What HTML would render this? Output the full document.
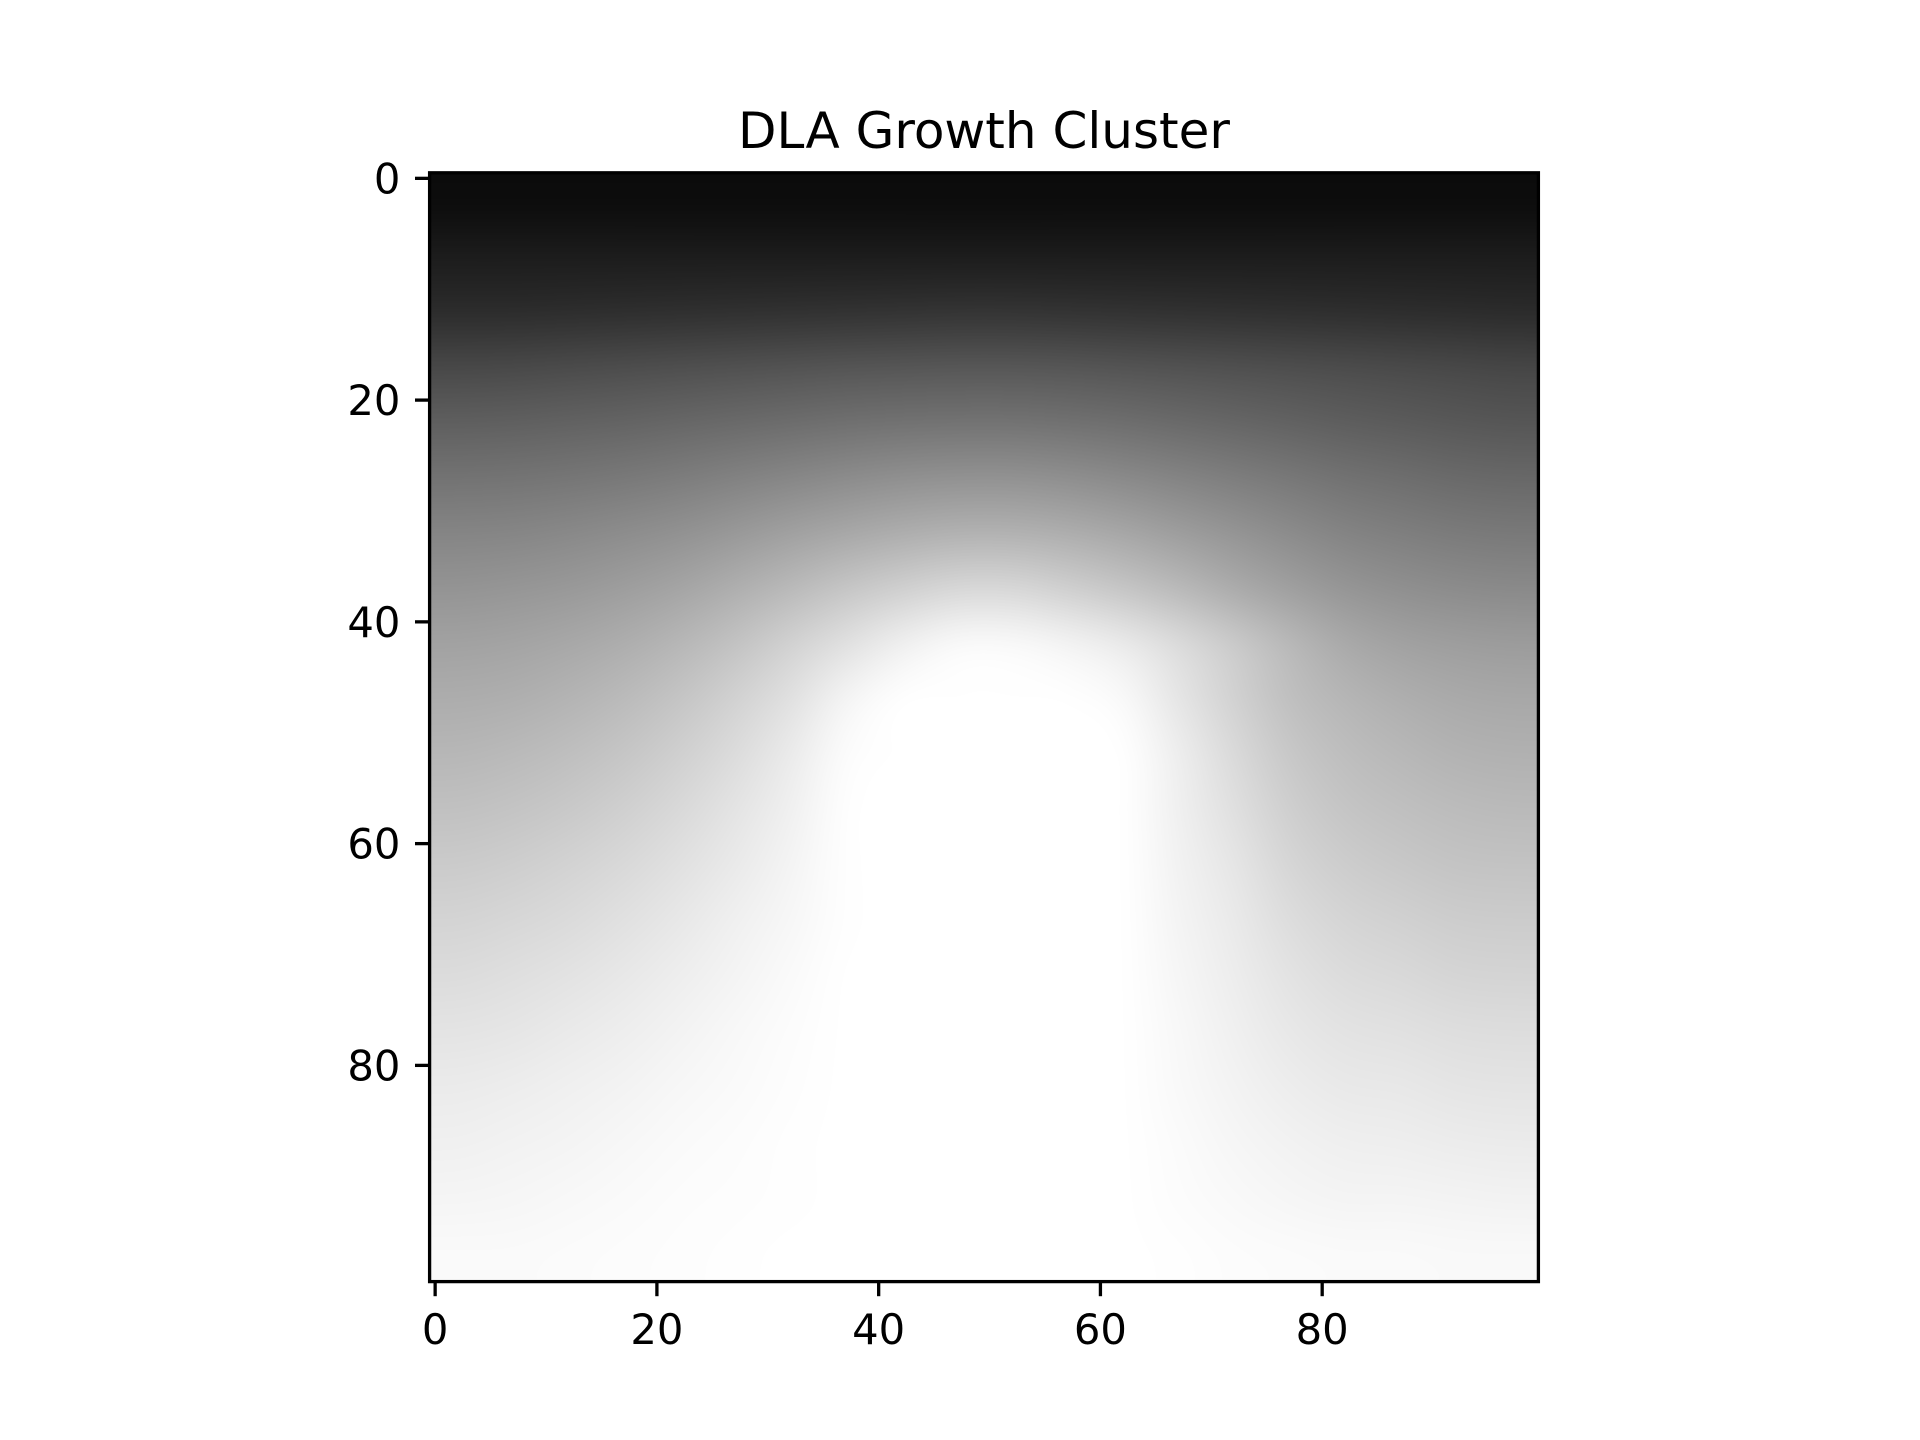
<!DOCTYPE html>
<html><head><meta charset="utf-8"><style>
html,body{margin:0;padding:0;background:#fff;}
#wrap{position:relative;width:1920px;height:1440px;overflow:hidden;font-family:"DejaVu Sans","Liberation Sans",sans-serif;}
canvas{position:absolute;}
</style></head><body>
<div id="wrap">
<canvas id="heat" width="1109" height="1109" style="left:430px;top:173px;width:1109px;height:1109px"></canvas>
<svg id="ax" width="1920" height="1440" style="position:absolute;left:0;top:0"></svg>
</div>
<script>
const rowsN = 20, colsN = 20;
const grid = [
[12,12,12,12,12,12,12,12,12,12,12,12,12,12,12,12,12,12,12,12],
[28,28,28,28,28,28,28,28,28,28,28,28,28,28,28,28,28,28,28,28],
[44,44,45,46,47,48,49,50,51,52,52,51,50,49,48,47,46,45,44,43],
[72,73,75,77,79,81,83,85,86,87,87,86,84,82,80,78,76,74,72,70],
[95,96,98,100,103,106,109,112,114,115,115,113,110,106,102,98,94,91,88,86],
[115,116,118,121,125,130,135,140,144,146,146,143,138,132,126,120,114,110,106,104],
[133,134,137,141,146,153,161,168,174,178,178,174,167,158,149,140,132,127,123,121],
[148,150,153,158,165,175,186,198,208,216,216,208,198,186,172,160,150,144,140,138],
[162,164,168,174,183,195,210,225,240,250,250,244,235,220,203,185,170,162,158,156],
[173,175,180,187,197,210,225,245,255,255,255,255,250,230,210,192,182,175,170,168],
[183,186,191,198,208,220,235,252,255,255,255,255,255,238,218,200,190,184,179,177],
[193,196,201,208,217,228,240,254,255,255,255,255,255,240,224,207,197,192,188,186],
[203,206,211,217,225,234,244,254,255,255,255,255,255,242,230,214,205,200,196,195],
[212,215,219,225,232,240,247,254,255,255,255,255,255,244,234,221,213,209,205,204],
[220,223,227,232,238,244,250,255,255,255,255,255,255,246,237,227,220,217,213,212],
[228,230,234,238,243,248,252,255,255,255,255,255,255,248,240,232,227,225,222,221],
[235,237,240,243,247,250,253,255,255,255,255,255,255,249,243,237,233,232,229,228],
[240,242,244,247,250,252,254,255,255,255,255,255,255,251,246,242,239,238,236,235],
[245,246,248,250,252,253,254,255,255,255,255,255,255,252,249,246,244,244,243,242],
[250,250,251,252,253,254,255,255,255,255,255,255,255,254,252,251,250,250,249,249]
];
const xTicks = [0,20,40,60,80];
const yTicks = [0,20,40,60,80];
const titleText = "DLA Growth Cluster";

const L=429.6, T=172.8, S=1108.8, N=100;
const xs = v => L + (v+0.5)/N*S;
const ys = v => T + (v+0.5)/N*S;

const small = document.createElement('canvas');
small.width = colsN; small.height = rowsN;
const sctx = small.getContext('2d');
const img = sctx.createImageData(colsN, rowsN);
for (let r=0;r<rowsN;r++) for (let c=0;c<colsN;c++){
  const g = grid[r][c], i=(r*colsN+c)*4;
  img.data[i]=g; img.data[i+1]=g; img.data[i+2]=g; img.data[i+3]=255;
}
sctx.putImageData(img,0,0);
const hc = document.getElementById('heat').getContext('2d');
hc.imageSmoothingEnabled = true;
hc.imageSmoothingQuality = 'high';
hc.drawImage(small, 0, 0, 1109, 1109);

const svg = document.getElementById('ax');
const NS = 'http://www.w3.org/2000/svg';
function mk(tag, attrs){ const e=document.createElementNS(NS,tag); for(const k in attrs) e.setAttribute(k,attrs[k]); svg.appendChild(e); return e; }

const frame = mk('rect',{x:L,y:T,width:S,height:S,fill:'none',stroke:'#000','stroke-width':3.3});



xTicks.forEach(v=>{
  const x = xs(v);
  const t = mk('line',{x1:x,x2:x,y1:T+S,y2:T+S+14.6,stroke:'#000','stroke-width':3.3});
  
  
  const lb = mk('text',{x:x,y:T+S+14.6+14.6+33,'text-anchor':'middle','font-size':41.7,fill:'#000'});
  lb.textContent = String(v);
  
  
});
yTicks.forEach(v=>{
  const y = ys(v);
  const t = mk('line',{x1:L-14.6,x2:L,y1:y,y2:y,stroke:'#000','stroke-width':3.3});
  
  
  const lb = mk('text',{x:L-14.6-14.6,y:y+15,'text-anchor':'end','font-size':41.7,fill:'#000'});
  lb.textContent = String(v);
  
  
});
const title = mk('text',{x:L+S/2,y:T-25,'text-anchor':'middle','font-size':50,fill:'#000'});
title.textContent = titleText;


</script>
</body></html>
